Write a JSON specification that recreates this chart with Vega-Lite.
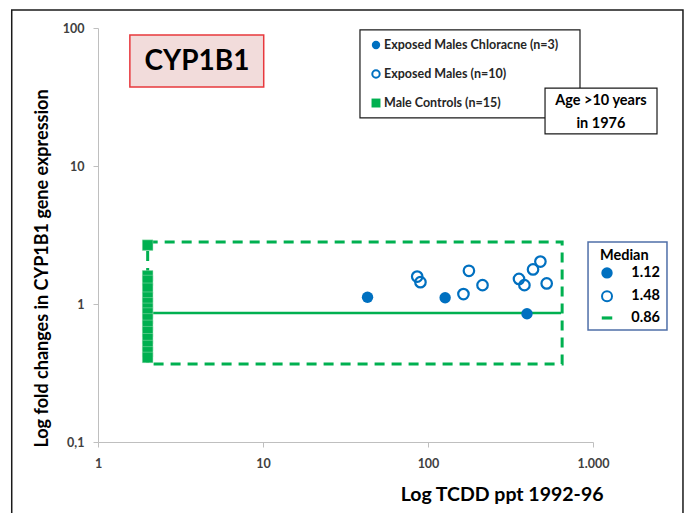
{
  "$schema": "https://vega.github.io/schema/vega-lite/v6.json",
  "width": 495,
  "height": 414,
  "autosize": "none",
  "padding": {"left": 98, "top": 28, "right": 107, "bottom": 71},
  "background": "white",
  "config": {
    "view": {"stroke": null},
    "font": "Lato",
    "axis": {"domainColor": "#bfbfbf", "tickColor": "#bfbfbf", "tickSize": 5, "labelFontSize": 12.5, "labelFontWeight": "bold", "labelColor": "#404040", "labelFont": "Lato", "grid": false, "titleFontSize": 18, "titleFontWeight": "bold", "titleColor": "black", "titleFont": "Lato", "labelFlush": false}
  },
  "datasets": {
    "pts": [
      {"group": "Controls", "tcdd": 2, "fold": 2.67},
      {"group": "Controls", "tcdd": 2, "fold": 1.6},
      {"group": "Controls", "tcdd": 2, "fold": 1.48},
      {"group": "Controls", "tcdd": 2, "fold": 1.3},
      {"group": "Controls", "tcdd": 2, "fold": 1.12},
      {"group": "Controls", "tcdd": 2, "fold": 1.02},
      {"group": "Controls", "tcdd": 2, "fold": 0.93},
      {"group": "Controls", "tcdd": 2, "fold": 0.86},
      {"group": "Controls", "tcdd": 2, "fold": 0.78},
      {"group": "Controls", "tcdd": 2, "fold": 0.7},
      {"group": "Controls", "tcdd": 2, "fold": 0.63},
      {"group": "Controls", "tcdd": 2, "fold": 0.56},
      {"group": "Controls", "tcdd": 2, "fold": 0.5},
      {"group": "Controls", "tcdd": 2, "fold": 0.45},
      {"group": "Controls", "tcdd": 2, "fold": 0.41},
      {"group": "Chloracne", "tcdd": 43, "fold": 1.12},
      {"group": "Chloracne", "tcdd": 127, "fold": 1.11},
      {"group": "Chloracne", "tcdd": 398, "fold": 0.85},
      {"group": "Exposed", "tcdd": 86, "fold": 1.58},
      {"group": "Exposed", "tcdd": 90, "fold": 1.44},
      {"group": "Exposed", "tcdd": 164, "fold": 1.18},
      {"group": "Exposed", "tcdd": 177, "fold": 1.74},
      {"group": "Exposed", "tcdd": 214, "fold": 1.37},
      {"group": "Exposed", "tcdd": 356, "fold": 1.52},
      {"group": "Exposed", "tcdd": 384, "fold": 1.37},
      {"group": "Exposed", "tcdd": 433, "fold": 1.78},
      {"group": "Exposed", "tcdd": 480, "fold": 2.03},
      {"group": "Exposed", "tcdd": 524, "fold": 1.41}
    ],
    "one": [{"k": 1}]
  },
  "layer": [
    {
      "data": {"name": "pts"},
      "transform": [{"filter": "datum.group == 'Controls'"}],
      "mark": {"type": "point", "shape": "square", "filled": true, "color": "#00b050", "size": 110, "opacity": 1, "stroke": "#bfe8cc", "strokeWidth": 0.4},
      "encoding": {
        "x": {"field": "tcdd", "type": "quantitative", "scale": {"type": "log", "domain": [1, 1000]},
          "axis": {"values": [1, 10, 100, 1000], "labelExpr": "datum.value == 1000 ? '1.000' : datum.label", "title": "Log TCDD ppt 1992-96",
            "labelPadding": 10, "titleFontSize": 19.5, "titleAlign": "right", "titleX": 505, "titleY": 58, "titleBaseline": "alphabetic"}},
        "y": {"field": "fold", "type": "quantitative", "scale": {"type": "log", "domain": [0.1, 100]},
          "axis": {"values": [0.1, 1, 10, 100], "labelExpr": "datum.value == 0.1 ? '0,1' : datum.label", "title": "Log fold changes in CYP1B1 gene expression",
            "labelPadding": 9, "titleAngle": 270, "titleAlign": "center", "titleBaseline": "middle", "titleX": -56, "titleY": 240}}
      }
    },
    {
      "data": {"name": "one"},
      "mark": {"type": "rect", "fillOpacity": 0, "stroke": "#1a1a1a", "strokeWidth": 1.5},
      "encoding": {
        "x": {"datum": 0.3, "type": "quantitative"}, "x2": {"datum": 3510},
        "y": {"datum": 135, "type": "quantitative"}, "y2": {"datum": 0.027}
      }
    },
    {
      "data": {"name": "one"},
      "mark": {"type": "rect", "fill": "#f2dcdb", "stroke": "#e8383d", "strokeWidth": 1.5},
      "encoding": {
        "x": {"datum": 1.56, "type": "quantitative"}, "x2": {"datum": 10.1},
        "y": {"datum": 89, "type": "quantitative"}, "y2": {"datum": 37.4}
      }
    },
    {
      "data": {"name": "one"},
      "mark": {"type": "text", "text": "CYP1B1", "fontSize": 28, "fontWeight": "bold", "font": "Lato", "color": "black", "align": "center", "baseline": "middle"},
      "encoding": {"x": {"datum": 3.98, "type": "quantitative"}, "y": {"datum": 56.7, "type": "quantitative"}}
    },
    {
      "data": {"name": "one"},
      "mark": {"type": "rect", "fill": "white", "stroke": "#1a1a1a", "strokeWidth": 1.2},
      "encoding": {
        "x": {"datum": 38.7, "type": "quantitative"}, "x2": {"datum": 834},
        "y": {"datum": 96.8, "type": "quantitative"}, "y2": {"datum": 22.3}
      }
    },
    {
      "data": {"name": "one"},
      "mark": {"type": "point", "shape": "circle", "filled": true, "color": "#0070c0", "size": 70, "opacity": 1},
      "encoding": {"x": {"datum": 48.4, "type": "quantitative"}, "y": {"datum": 75.3, "type": "quantitative"}}
    },
    {
      "data": {"name": "one"},
      "mark": {"type": "point", "shape": "circle", "filled": false, "color": "#0070c0", "size": 55, "strokeWidth": 2, "opacity": 1},
      "encoding": {"x": {"datum": 48.4, "type": "quantitative"}, "y": {"datum": 46.4, "type": "quantitative"}}
    },
    {
      "data": {"name": "one"},
      "mark": {"type": "point", "shape": "square", "filled": true, "color": "#00b050", "size": 80, "opacity": 1},
      "encoding": {"x": {"datum": 48.4, "type": "quantitative"}, "y": {"datum": 28.6, "type": "quantitative"}}
    },
    {
      "data": {"name": "one"},
      "mark": {"type": "text", "text": "Exposed Males Chloracne (n=3)", "fontSize": 12.5, "fontWeight": "bold", "font": "Lato", "color": "#262626", "align": "left", "baseline": "middle"},
      "encoding": {"x": {"datum": 54.1, "type": "quantitative"}, "y": {"datum": 75.3, "type": "quantitative"}}
    },
    {
      "data": {"name": "one"},
      "mark": {"type": "text", "text": "Exposed Males (n=10)", "fontSize": 12.5, "fontWeight": "bold", "font": "Lato", "color": "#262626", "align": "left", "baseline": "middle"},
      "encoding": {"x": {"datum": 54.1, "type": "quantitative"}, "y": {"datum": 46.4, "type": "quantitative"}}
    },
    {
      "data": {"name": "one"},
      "mark": {"type": "text", "text": "Male Controls (n=15)", "fontSize": 12.5, "fontWeight": "bold", "font": "Lato", "color": "#262626", "align": "left", "baseline": "middle"},
      "encoding": {"x": {"datum": 54.1, "type": "quantitative"}, "y": {"datum": 28.6, "type": "quantitative"}}
    },
    {
      "data": {"name": "one"},
      "mark": {"type": "rect", "fill": "white", "stroke": "#1a1a1a", "strokeWidth": 1.2},
      "encoding": {
        "x": {"datum": 512, "type": "quantitative"}, "x2": {"datum": 2443},
        "y": {"datum": 36.7, "type": "quantitative"}, "y2": {"datum": 17.1}
      }
    },
    {
      "data": {"name": "one"},
      "mark": {"type": "text", "text": "Age >10 years", "fontSize": 14.5, "fontWeight": "bold", "font": "Lato", "color": "black", "align": "center", "baseline": "middle"},
      "encoding": {"x": {"datum": 1117, "type": "quantitative"}, "y": {"datum": 29.6, "type": "quantitative"}}
    },
    {
      "data": {"name": "one"},
      "mark": {"type": "text", "text": "in 1976", "fontSize": 14.5, "fontWeight": "bold", "font": "Lato", "color": "black", "align": "center", "baseline": "middle"},
      "encoding": {"x": {"datum": 1117, "type": "quantitative"}, "y": {"datum": 20.2, "type": "quantitative"}}
    },
    {
      "data": {"name": "one"},
      "mark": {"type": "rect", "fill": "white", "stroke": "#4f6fa8", "strokeWidth": 1.5},
      "encoding": {
        "x": {"datum": 933, "type": "quantitative"}, "x2": {"datum": 2808},
        "y": {"datum": 2.81, "type": "quantitative"}, "y2": {"datum": 0.648}
      }
    },
    {
      "data": {"name": "one"},
      "mark": {"type": "text", "text": "Median", "fontSize": 14.5, "fontWeight": "bold", "font": "Lato", "color": "black", "align": "left", "baseline": "middle"},
      "encoding": {"x": {"datum": 1102, "type": "quantitative"}, "y": {"datum": 2.23, "type": "quantitative"}}
    },
    {
      "data": {"name": "one"},
      "mark": {"type": "point", "shape": "circle", "filled": true, "color": "#0070c0", "size": 130, "opacity": 1},
      "encoding": {"x": {"datum": 1216, "type": "quantitative"}, "y": {"datum": 1.68, "type": "quantitative"}}
    },
    {
      "data": {"name": "one"},
      "mark": {"type": "point", "shape": "circle", "filled": false, "color": "#0070c0", "size": 100, "strokeWidth": 2, "opacity": 1},
      "encoding": {"x": {"datum": 1216, "type": "quantitative"}, "y": {"datum": 1.14, "type": "quantitative"}}
    },
    {
      "data": {"name": "one"},
      "mark": {"type": "point", "shape": "M-1,-0.3L1,-0.3L1,0.3L-1,0.3Z", "filled": true, "color": "#00b050", "size": 110, "opacity": 1},
      "encoding": {"x": {"datum": 1216, "type": "quantitative"}, "y": {"datum": 0.792, "type": "quantitative"}}
    },
    {
      "data": {"name": "one"},
      "mark": {"type": "text", "text": "1.12", "fontSize": 14.5, "fontWeight": "bold", "font": "Lato", "color": "black", "align": "right", "baseline": "middle"},
      "encoding": {"x": {"datum": 2547, "type": "quantitative"}, "y": {"datum": 1.68, "type": "quantitative"}}
    },
    {
      "data": {"name": "one"},
      "mark": {"type": "text", "text": "1.48", "fontSize": 14.5, "fontWeight": "bold", "font": "Lato", "color": "black", "align": "right", "baseline": "middle"},
      "encoding": {"x": {"datum": 2547, "type": "quantitative"}, "y": {"datum": 1.14, "type": "quantitative"}}
    },
    {
      "data": {"name": "one"},
      "mark": {"type": "text", "text": "0.86", "fontSize": 14.5, "fontWeight": "bold", "font": "Lato", "color": "black", "align": "right", "baseline": "middle"},
      "encoding": {"x": {"datum": 2547, "type": "quantitative"}, "y": {"datum": 0.792, "type": "quantitative"}}
    },
    {
      "data": {"name": "one"},
      "mark": {"type": "rect", "fillOpacity": 0, "stroke": "#00b050", "strokeWidth": 3, "strokeDash": [10, 7]},
      "encoding": {
        "x": {"datum": 2, "type": "quantitative"}, "x2": {"datum": 650},
        "y": {"datum": 2.81, "type": "quantitative"}, "y2": {"datum": 0.367}
      }
    },
    {
      "data": {"name": "one"},
      "mark": {"type": "rule", "color": "#00b050", "strokeWidth": 2.5},
      "encoding": {
        "x": {"datum": 2, "type": "quantitative"}, "x2": {"datum": 640},
        "y": {"datum": 0.86, "type": "quantitative"}
      }
    },
    {
      "data": {"name": "pts"},
      "transform": [{"filter": "datum.group == 'Controls'"}],
      "mark": {"type": "point", "shape": "square", "filled": true, "color": "#00b050", "size": 110, "opacity": 1, "stroke": "#bfe8cc", "strokeWidth": 0.4},
      "encoding": {"x": {"field": "tcdd", "type": "quantitative"}, "y": {"field": "fold", "type": "quantitative"}}
    },
    {
      "data": {"name": "pts"},
      "transform": [{"filter": "datum.group == 'Exposed'"}],
      "mark": {"type": "point", "shape": "circle", "filled": false, "color": "#0070c0", "size": 110, "strokeWidth": 2.2, "opacity": 1},
      "encoding": {"x": {"field": "tcdd", "type": "quantitative"}, "y": {"field": "fold", "type": "quantitative"}}
    },
    {
      "data": {"name": "pts"},
      "transform": [{"filter": "datum.group == 'Chloracne'"}],
      "mark": {"type": "point", "shape": "circle", "filled": true, "color": "#0070c0", "size": 130, "opacity": 1},
      "encoding": {"x": {"field": "tcdd", "type": "quantitative"}, "y": {"field": "fold", "type": "quantitative"}}
    }
  ]
}
